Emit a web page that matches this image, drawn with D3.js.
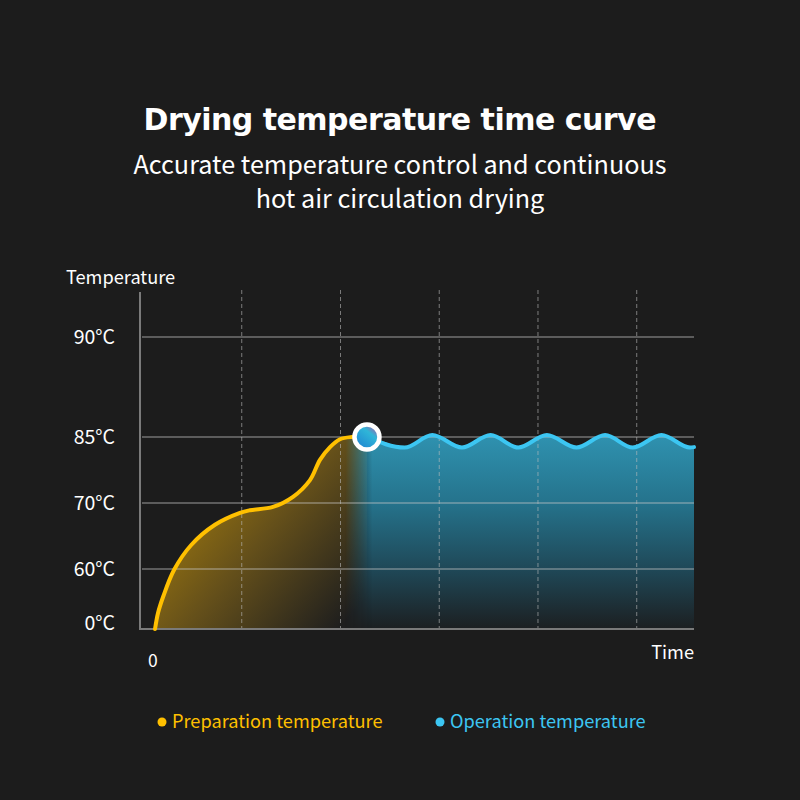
<!DOCTYPE html>
<html>
<head>
<meta charset="utf-8">
<script src="https://cdn.jsdelivr.net/npm/d3@7"></script>
<style>
  html, body { margin: 0; padding: 0; background: #1c1c1c; }
  svg { display: block; }
</style>
</head>
<body>
<svg id="chart" width="800" height="800"></svg>
<script>
// ---- data ----
const tempTicks = [0, 60, 70, 85, 90];
const timeGrid = [1, 2, 3, 4, 5];
const xTickLabels = ["0"];
const prepTime = [0.122, 0.152, 0.203, 0.314, 0.486, 0.729, 0.982, 1.083, 1.316, 1.519, 1.691, 1.792, 1.894, 1.995, 2.116, 2.268];
const prepTemp = [0, 16, 32, 59, 63.6, 66.7, 68.5, 68.9, 69.4, 71.4, 75.2, 79.8, 82.7, 84.5, 85, 85];
const opTime = [2.268, 2.65, 2.93, 3.23, 3.52, 3.80, 4.09, 4.39, 4.68, 4.96, 5.25, 5.54, 5.58];
const opTemp = [85, 82.6, 85.1, 82.6, 85.1, 82.6, 85.1, 82.6, 85.1, 82.6, 85.1, 82.6, 82.7];
const seriesNames = ["Preparation temperature", "Operation temperature"];
const seriesColors = ["#ffc000", "#3cc6f2"];
const titleText = "Drying temperature time curve";
const subtitleLines = ["Accurate temperature control and continuous", "hot air circulation drying"];

// ---- layout ----
const svg = d3.select("#chart");
const plotLeft = 140, plotRight = 694, plotTop = 292, plotBottom = 629;
const x = d3.scaleLinear().domain([0, 5.58]).range([143, plotRight]);
const y = d3.scaleLinear().domain(tempTicks).range([629, 569, 503, 437, 337]);

const prep = prepTime.map((t, i) => ({t, v: prepTemp[i]}));
const op = opTime.map((t, i) => ({t, v: opTemp[i]}));

const defs = svg.append("defs");
// yellow fill gradient
const gy = defs.append("linearGradient").attr("id", "gYellow")
  .attr("gradientUnits", "userSpaceOnUse")
  .attr("x1", 165).attr("y1", 500).attr("x2", 330).attr("y2", 640);
gy.append("stop").attr("offset", 0).attr("stop-color", "#a07a0e");
gy.append("stop").attr("offset", 0.45).attr("stop-color", "#65501a");
gy.append("stop").attr("offset", 1).attr("stop-color", "#1e1e1e");
// blue fill gradient (vertical)
const gb = defs.append("linearGradient").attr("id", "gBlue")
  .attr("gradientUnits", "userSpaceOnUse")
  .attr("x1", 0).attr("y1", 435).attr("x2", 0).attr("y2", plotBottom);
gb.append("stop").attr("offset", 0).attr("stop-color", "#2f92b0");
gb.append("stop").attr("offset", 0.35).attr("stop-color", "#25738c");
gb.append("stop").attr("offset", 0.7).attr("stop-color", "#1f4756");
gb.append("stop").attr("offset", 1).attr("stop-color", "#1c1f21");
// horizontal mask for the blue left soft edge
const gm = defs.append("linearGradient").attr("id", "gMask")
  .attr("gradientUnits", "userSpaceOnUse")
  .attr("x1", x(2.05)).attr("y1", 0).attr("x2", x(2.32)).attr("y2", 0);
gm.append("stop").attr("offset", 0).attr("stop-color", "#fff").attr("stop-opacity", 0);
gm.append("stop").attr("offset", 1).attr("stop-color", "#fff").attr("stop-opacity", 1);
defs.append("mask").attr("id", "mBlue").attr("maskUnits", "userSpaceOnUse")
  .append("rect").attr("x", 0).attr("y", 0).attr("width", 800).attr("height", 800).attr("fill", "url(#gMask)");
// marker inner gradient
const gk = defs.append("linearGradient").attr("id", "gMarker")
  .attr("x1", "0.9").attr("y1", "0").attr("x2", "0.1").attr("y2", "1");
gk.append("stop").attr("offset", 0).attr("stop-color", "#c04a9c");
gk.append("stop").attr("offset", 0.35).attr("stop-color", "#2fb6d8");
gk.append("stop").attr("offset", 1).attr("stop-color", "#1e7fd0");

// ---- titles ----
svg.append("text").text(titleText)
  .attr("x", 400).attr("y", 130).attr("text-anchor", "middle")
  .attr("fill", "#ffffff").attr("font-family", "'DejaVu Sans', sans-serif")
  .attr("font-weight", 700).attr("font-size", 30)
  .attr("textLength", 513).attr("lengthAdjust", "spacing");
svg.selectAll("text.sub").data(subtitleLines).join("text").attr("class", "sub")
  .text(d => d)
  .attr("x", 400).attr("y", (d, i) => 174 + i * 34).attr("text-anchor", "middle")
  .attr("fill", "#ffffff").attr("font-family", "'Noto Sans CJK SC', 'Noto Sans', sans-serif")
  .attr("font-weight", 400).attr("font-size", 25.2);

// ---- fills ----
const area = d3.area().x(d => x(d.t)).y0(y(0)).y1(d => y(d.v)).curve(d3.curveCatmullRom.alpha(0.5));
svg.append("path").datum(prep).attr("d", area).attr("fill", "url(#gYellow)");
const blueData = prep.filter(d => d.t >= 1.99 && d.t < 2.268).concat(op);
const areaOp = d3.area().x(d => x(d.t)).y0(y(0)).y1(d => y(d.v)).curve(d3.curveMonotoneX);
svg.append("path").datum(blueData).attr("d", areaOp).attr("fill", "url(#gBlue)").attr("mask", "url(#mBlue)");

// ---- grid ----
svg.selectAll("line.hgrid").data(tempTicks.filter(d => d > 0)).join("line").attr("class", "hgrid")
  .attr("x1", plotLeft + 2).attr("x2", plotRight)
  .attr("y1", d => y(d)).attr("y2", d => y(d))
  .attr("stroke", "#c8c8c8").attr("stroke-opacity", 0.5).attr("stroke-width", 1.5);
svg.selectAll("line.vgrid").data(timeGrid).join("line").attr("class", "vgrid")
  .attr("x1", d => x(d)).attr("x2", d => x(d))
  .attr("y1", plotTop - 2).attr("y2", plotBottom)
  .attr("stroke", "#bdbdbd").attr("stroke-opacity", 0.6).attr("stroke-width", 1)
  .attr("stroke-dasharray", "4,3");
// axes
svg.append("line").attr("x1", plotLeft).attr("x2", plotLeft).attr("y1", plotTop).attr("y2", plotBottom + 1)
  .attr("stroke", "#7a7a7a").attr("stroke-width", 2);
svg.append("line").attr("x1", plotLeft).attr("x2", plotRight).attr("y1", y(0)).attr("y2", y(0))
  .attr("stroke", "#7a7a7a").attr("stroke-width", 2);

// ---- axis labels ----
const lblFont = "'Noto Sans CJK SC', 'Noto Sans', sans-serif";
svg.selectAll("text.ytick").data(tempTicks).join("text").attr("class", "ytick")
  .text(d => d + "°C")
  .attr("x", 115).attr("y", d => y(d) - (d === 0 ? 6 : 0)).attr("dy", "0.35em")
  .attr("text-anchor", "end").attr("fill", "#ffffff")
  .attr("font-family", lblFont).attr("font-size", 19.5);
svg.append("text").text("Temperature").attr("x", 66).attr("y", 284)
  .attr("fill", "#ffffff").attr("font-family", lblFont).attr("font-size", 18.2);
svg.selectAll("text.xtick").data(xTickLabels).join("text").attr("class", "xtick")
  .text(d => d).attr("x", x(0.1)).attr("y", 667).attr("text-anchor", "middle")
  .attr("fill", "#ffffff").attr("font-family", lblFont).attr("font-size", 17.5);
svg.append("text").text("Time").attr("x", plotRight).attr("y", 659).attr("text-anchor", "end")
  .attr("fill", "#ffffff").attr("font-family", lblFont).attr("font-size", 18.2);

// ---- lines ----
const linePrep = d3.line().x(d => x(d.t)).y(d => y(d.v)).curve(d3.curveCatmullRom.alpha(0.5));
const lineOp = d3.line().x(d => x(d.t)).y(d => y(d.v)).curve(d3.curveMonotoneX);
svg.append("path").datum(prep).attr("d", linePrep).attr("fill", "none")
  .attr("stroke", seriesColors[0]).attr("stroke-width", 4).attr("stroke-linecap", "round");
svg.append("path").datum(op).attr("d", lineOp).attr("fill", "none")
  .attr("stroke", seriesColors[1]).attr("stroke-width", 4).attr("stroke-linecap", "round");

// marker at transition
svg.append("circle").attr("cx", x(op[0].t)).attr("cy", y(op[0].v)).attr("r", 12.5)
  .attr("fill", "url(#gMarker)").attr("stroke", "#ffffff").attr("stroke-width", 4.5);

// ---- legend ----
const legendX = [162, 440];
const lg = svg.selectAll("g.leg").data(seriesNames).join("g").attr("class", "leg")
  .attr("transform", (d, i) => `translate(${legendX[i]},722)`);
lg.append("circle").attr("r", 4.5).attr("fill", (d, i) => seriesColors[i]);
lg.append("text").text(d => d).attr("x", 10).attr("dy", "0.35em")
  .attr("fill", (d, i) => seriesColors[i]).attr("font-family", lblFont).attr("font-size", 18.2);
</script>
</body>
</html>
